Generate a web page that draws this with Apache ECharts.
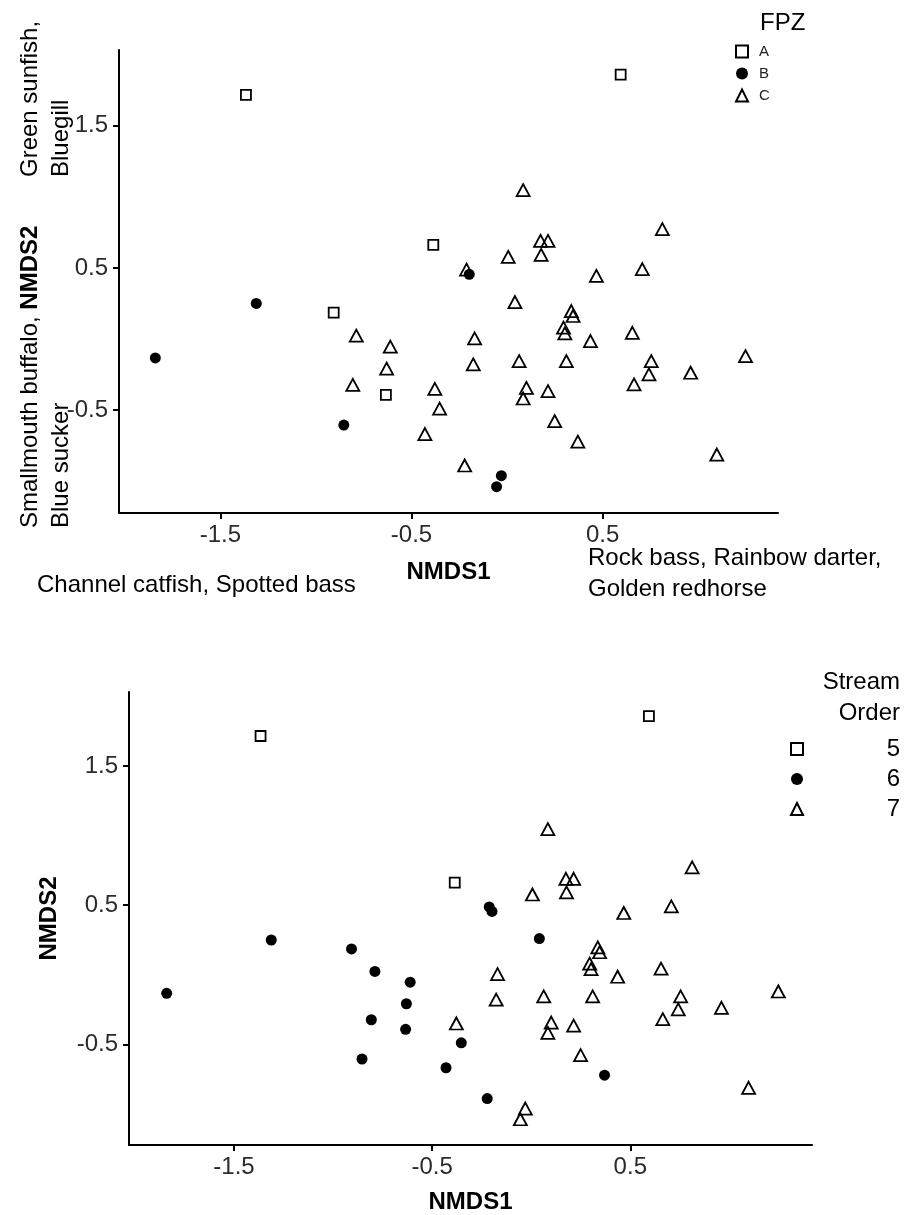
<!DOCTYPE html>
<html><head><meta charset="utf-8">
<script src="https://cdn.jsdelivr.net/npm/echarts@6/dist/echarts.min.js"></script>
<style>html,body{margin:0;padding:0;background:#fff}#c{width:917px;height:1215px}</style>
</head><body><div id="c"></div>
<script>
// NMDS site scores (same ordination in both panels)
const nmds1 = [-1.366, 0.594, -0.386, -0.907, -0.634, -1.840, -1.312, -0.854, -0.198, -0.030,
               -0.055, -0.789, -0.611, -0.630, -0.807, -0.378, -0.353, -0.430, 0.084, 0.175,
               0.214, 0.178, 0.006, -0.212, 0.041, -0.170, -0.177, 0.063, 0.101, 0.084,
               0.214, 0.249, -0.222, 0.467, 0.707, 0.336, 0.345, 0.295, 0.302, 0.436,
               0.655, 0.310, 0.754, 0.742, 0.664, 0.960, 1.247, 1.097, 0.812, 0.370];
const nmds2 = [1.716, 1.859, 0.662, 0.186, -0.392, -0.133, 0.250, -0.605, 0.455, -0.961,
               -1.038, 0.024, -0.053, -0.208, -0.323, -0.350, -0.489, -0.668, 1.047, 0.690,
               0.690, 0.592, 0.577, 0.488, 0.260, 0.005, -0.178, -0.155, -0.343, -0.418,
               -0.366, -0.577, -0.889, 0.444, 0.491, 0.197, 0.162, 0.080, 0.040, -0.014,
               0.044, -0.155, -0.155, -0.249, -0.319, -0.237, -0.120, -0.812, 0.772, -0.721];
const fpz = ['A','A','A','A','A','B','B','B','B','B',
             'B','C','C','C','C','C','C','C','C','C',
             'C','C','C','C','C','C','C','C','C','C',
             'C','C','C','C','C','C','C','C','C','C',
             'C','C','C','C','C','C','C','C','C','C'];
const streamOrder = ['5','5','5','6','6','6','6','6','6','7',
                     '7','6','6','6','6','7','6','6','7','7',
                     '7','7','7','6','6','7','7','7','7','7',
                     '7','7','6','7','7','7','7','7','7','7',
                     '7','7','7','7','7','7','7','7','7','6'];
const fpzLevels = ['A', 'B', 'C'];
const orderLevels = ['5', '6', '7'];
const xTicks = [-1.5, -0.5, 0.5];
const yTicks = [-0.5, 0.5, 1.5];

const FONT = '"Liberation Sans", Arial, sans-serif';
const shapes = ['rect', 'circle', 'triangle'];
const sizes = [10, 11, [13, 12]];

function pts(groups, level) {
  const out = [];
  for (let i = 0; i < nmds1.length; i++) if (groups[i] === level) out.push([nmds1[i], nmds2[i]]);
  return out;
}
function mkSeries(groups, levels, gridIdx) {
  const order = [0, 2, 1]; // draw filled circles last
  return order.map(k => ({
    type: 'scatter', name: levels[k], xAxisIndex: gridIdx, yAxisIndex: gridIdx,
    symbol: shapes[k], symbolSize: sizes[k], data: pts(groups, levels[k]),
    z: k === 1 ? 3 : 2,
    itemStyle: k === 1 ? {color: '#000', borderWidth: 0, opacity: 1}
                       : {color: 'rgba(255,255,255,0)', borderColor: '#000', borderWidth: 1.8, opacity: 1},
    emphasis: {disabled: true}
  }));
}
function mkX(gi, nameGap) {
  return {
    type: 'value', gridIndex: gi, min: -2.03, max: 1.417,
    name: 'NMDS1', nameLocation: 'middle', nameGap: nameGap,
    nameTextStyle: {fontFamily: FONT, fontSize: 24, fontWeight: 'bold', color: '#000'},
    splitLine: {show: false},
    axisLine: {show: true, onZero: false, lineStyle: {color: '#000', width: 2}},
    axisTick: {show: true, length: 6, lineStyle: {color: '#000', width: 2}, customValues: xTicks},
    axisLabel: {fontFamily: FONT, fontSize: 24, color: '#2b2b2b', margin: 10, customValues: xTicks,
                formatter: v => String(v)}
  };
}
function mkY(gi, name, nameGap) {
  return {
    type: 'value', gridIndex: gi, min: -1.223, max: 2.032,
    name: name, nameLocation: 'middle', nameGap: nameGap,
    nameTextStyle: {fontFamily: FONT, fontSize: 24, fontWeight: 'bold', color: '#000'},
    splitLine: {show: false},
    axisLine: {show: true, onZero: false, lineStyle: {color: '#000', width: 2}},
    axisTick: {show: true, length: 6, lineStyle: {color: '#000', width: 2}, customValues: yTicks},
    axisLabel: {fontFamily: FONT, fontSize: 24, color: '#2b2b2b', margin: 11, customValues: yTicks,
                formatter: v => String(v)}
  };
}

const chart = echarts.init(document.getElementById('c'), null, {renderer: 'canvas'});
chart.setOption({
  animation: false,
  backgroundColor: '#fff',
  grid: [
    {left: 119, top: 50, width: 659, height: 463},
    {left: 129, top: 692, width: 683, height: 455}
  ],
  xAxis: [mkX(0, 47), mkX(1, 45)],
  yAxis: [mkY(0, '', 0), mkY(1, 'NMDS2', 68)],
  legend: [
    {data: fpzLevels, orient: 'vertical', left: 735, top: 44, padding: 0, itemWidth: 12, itemHeight: 12, itemGap: 7,
     selectedMode: false, formatter: '{t|{name}}',
     textStyle: {rich: {t: {fontFamily: FONT, fontSize: 15, color: '#222', padding: [0, 0, 0, 6]}}}},
    {data: orderLevels, orient: 'vertical', left: 790, top: 737, padding: 0, itemWidth: 12, itemHeight: 12, itemGap: 6,
     selectedMode: false, formatter: '{r|{name}}',
     textStyle: {rich: {r: {fontFamily: FONT, fontSize: 24, lineHeight: 24, color: '#000', width: 92, align: 'right'}}}}
  ],
  series: [...mkSeries(fpz, fpzLevels, 0), ...mkSeries(streamOrder, orderLevels, 1)],
  graphic: [
    {type: 'text', x: 14.5, y: 177, rotation: Math.PI / 2,
     style: {text: 'Green sunfish,\nBluegill', fontFamily: FONT, fontSize: 24, lineHeight: 31,
             fill: '#000', align: 'left', verticalAlign: 'top'}},
    {type: 'text', x: 14.5, y: 528, rotation: Math.PI / 2,
     style: {text: 'Smallmouth buffalo, {b|NMDS2}\nBlue sucker', fontFamily: FONT, fontSize: 24, lineHeight: 31,
             fill: '#000', align: 'left', verticalAlign: 'top',
             rich: {b: {fontFamily: FONT, fontSize: 24, lineHeight: 31, fontWeight: 'bold', fill: '#000'}}}},
    {type: 'text', x: 37, y: 585,
     style: {text: 'Channel catfish, Spotted bass', fontFamily: FONT, fontSize: 24, fill: '#000',
             align: 'left', verticalAlign: 'middle'}},
    {type: 'text', x: 588, y: 542.5,
     style: {text: 'Rock bass, Rainbow darter,\nGolden redhorse', fontFamily: FONT, fontSize: 24, lineHeight: 31,
             fill: '#000', align: 'left', verticalAlign: 'top'}},
    {type: 'text', x: 760, y: 23,
     style: {text: 'FPZ', fontFamily: FONT, fontSize: 24, fill: '#000', align: 'left', verticalAlign: 'middle'}},
    {type: 'text', x: 900, y: 666.5,
     style: {text: 'Stream\nOrder', fontFamily: FONT, fontSize: 24, lineHeight: 31, fill: '#000',
             align: 'right', verticalAlign: 'top'}}
  ]
});
</script>
</body></html>
